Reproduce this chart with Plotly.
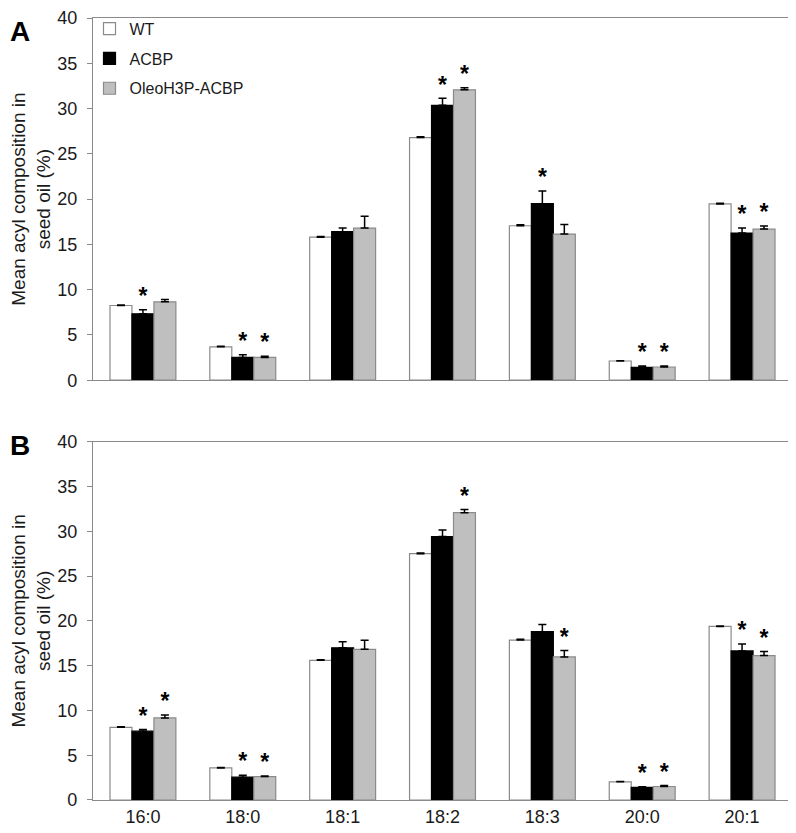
import plotly.graph_objects as go
from plotly.subplots import make_subplots

categories = ["16:0", "18:0", "18:1", "18:2", "18:3", "20:0", "20:1"]
series = ["WT", "ACBP", "OleoH3P-ACBP"]

# Panel A
a_wt = [8.25, 3.69, 15.8, 26.8, 17.06, 2.12, 19.47]
a_wt_err = [0.06, 0.05, 0.07, 0.08, 0.12, 0.04, 0.06]
a_acbp = [7.34, 2.52, 16.4, 30.36, 19.5, 1.42, 16.25]
a_acbp_err = [0.45, 0.3, 0.4, 0.77, 1.4, 0.15, 0.55]
a_oleo = [8.66, 2.52, 16.8, 32.07, 16.14, 1.46, 16.69]
a_oleo_err = [0.25, 0.14, 1.3, 0.22, 1.06, 0.1, 0.33]
a_sig_acbp = [True, True, False, True, True, True, True]
a_sig_oleo = [False, True, False, True, False, True, True]

# Panel B
b_wt = [8.12, 3.58, 15.6, 27.5, 17.86, 2.03, 19.38]
b_wt_err = [0.06, 0.05, 0.05, 0.07, 0.08, 0.04, 0.05]
b_acbp = [7.68, 2.55, 17.0, 29.42, 18.79, 1.4, 16.65]
b_acbp_err = [0.18, 0.22, 0.66, 0.74, 0.81, 0.08, 0.77]
b_oleo = [9.16, 2.62, 16.83, 32.08, 15.98, 1.51, 16.13]
b_oleo_err = [0.33, 0.07, 1.0, 0.37, 0.71, 0.11, 0.45]
b_sig_acbp = [True, True, False, False, False, True, True]
b_sig_oleo = [True, True, False, True, True, True, True]

y_ticks = [0, 5, 10, 15, 20, 25, 30, 35, 40]

fills = ["#ffffff", "#000000", "#bfbfbf"]
outlines = ["#8a8a8a", "#000000", "#8a8a8a"]
bar_w = 0.22
offsets = [-bar_w, 0.0, bar_w]

fig = make_subplots(rows=2, cols=1, vertical_spacing=0.08)

panels = [
    (1, [a_wt, a_acbp, a_oleo], [a_wt_err, a_acbp_err, a_oleo_err], [None, a_sig_acbp, a_sig_oleo]),
    (2, [b_wt, b_acbp, b_oleo], [b_wt_err, b_acbp_err, b_oleo_err], [None, b_sig_acbp, b_sig_oleo]),
]

for row, vals, errs, sigs in panels:
    for k in range(3):
        xs = [i + offsets[k] for i in range(len(categories))]
        fig.add_trace(go.Bar(
            x=xs, y=vals[k], width=bar_w, name=series[k],
            marker=dict(color=fills[k], line=dict(color=outlines[k], width=1.2)),
            error_y=dict(type="data", array=errs[k], arrayminus=[0] * len(errs[k]),
                         symmetric=False, color="#000000", thickness=1.5, width=4),
            showlegend=(row == 1), legendgroup=series[k],
        ), row=row, col=1)
        if sigs[k] is not None:
            sx = [xs[i] for i in range(len(categories)) if sigs[k][i]]
            sy = [vals[k][i] + errs[k][i] for i in range(len(categories)) if sigs[k][i]]
            fig.add_trace(go.Scatter(
                x=sx, y=sy, mode="text", text=["<b>*</b>"] * len(sx),
                textposition="top center",
                textfont=dict(size=23, color="#000000", family="Liberation Sans, Arial"),
                showlegend=False, hoverinfo="skip",
            ), row=row, col=1)

axis_color = "#8a8a8a"
for r, dom in [(1, [0.5368, 1.0]), (2, [0.0, 0.4581])]:
    fig.update_yaxes(row=r, col=1, domain=dom, range=[0, 40], tickvals=y_ticks,
                     showline=True, linecolor=axis_color, linewidth=1.2, mirror=True,
                     ticks="outside", ticklen=5, tickcolor=axis_color, showgrid=False,
                     zeroline=False, ticklabelstandoff=6, automargin=False,
                     tickfont=dict(size=18, color="#1a1a1a"),
                     title=dict(text="Mean acyl composition in<br>seed oil (%)",
                                font=dict(size=19, color="#1a1a1a"), standoff=19))
    fig.update_xaxes(row=r, col=1, range=[-0.5, 6.5], tickvals=list(range(len(categories))),
                     ticktext=categories, showline=True, linecolor=axis_color, linewidth=1.2,
                     mirror=True, ticks="", showgrid=False, zeroline=False, automargin=False,
                     showticklabels=(r == 2), tickfont=dict(size=18, color="#1a1a1a"))

fig.add_annotation(text="<b>A</b>", xref="paper", yref="paper", x=-0.1216, y=1.0051,
                   xanchor="left", yanchor="top", showarrow=False,
                   font=dict(size=28, color="#000000", family="Liberation Sans, Arial"))
fig.add_annotation(text="<b>B</b>", xref="paper", yref="paper", x=-0.1216, y=0.453,
                   xanchor="left", yanchor="middle", showarrow=False,
                   font=dict(size=28, color="#000000", family="Liberation Sans, Arial"))

fig.update_layout(
    width=796, height=833,
    margin=dict(l=85, r=12, t=4, b=41),
    plot_bgcolor="#ffffff", paper_bgcolor="#ffffff",
    font=dict(family="Liberation Sans, Arial, sans-serif", color="#1a1a1a"),
    barmode="overlay",
    legend=dict(x=-0.005, y=1.008, xanchor="left", yanchor="top",
                traceorder="grouped", tracegroupgap=6, itemwidth=30,
                bgcolor="rgba(0,0,0,0)", font=dict(size=16, color="#1a1a1a")),
)

fig.write_html("out.html")
